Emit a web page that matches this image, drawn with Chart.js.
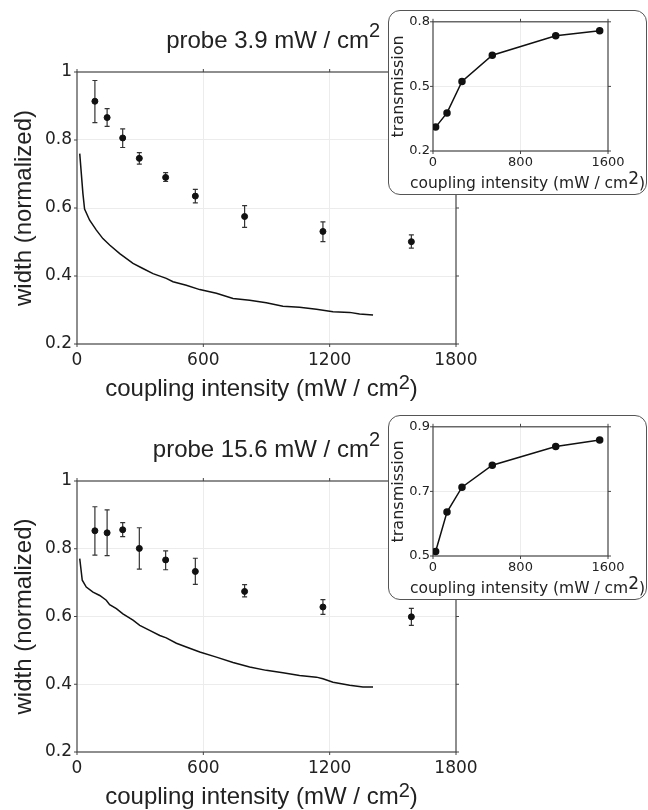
<!DOCTYPE html>
<html>
<head>
<meta charset="utf-8">
<script src="https://cdn.jsdelivr.net/npm/chart.js@4.4.0/dist/chart.umd.min.js"></script>
<style>
body { margin: 0; background: #fff; }
#wrap { position: relative; width: 648px; height: 810px; overflow: hidden; }
.main { position: absolute; left: 0; }
.inset { position: absolute; left: 388px; width: 259px; height: 185px; box-sizing: border-box;
         border: 1px solid #555; border-radius: 12px; background: #fff; overflow: hidden; }
.inset canvas { display: block; }
</style>
</head>
<body>
<div id="wrap">
  <canvas id="c-top" class="main" width="648" height="405" style="top:0"></canvas>
  <canvas id="c-bot" class="main" width="648" height="405" style="top:405px"></canvas>
  <div class="inset" style="top:10px"><canvas id="c-in-top" width="257" height="183"></canvas></div>
  <div class="inset" style="top:415px"><canvas id="c-in-bot" width="257" height="183"></canvas></div>
</div>
<script>
// measured points (coupling intensity, mW/cm2)
const couplingX = [85, 143, 217, 296, 421, 562, 796, 1168, 1588];

// probe 3.9 mW/cm2
const widthLow      = [0.914, 0.866, 0.806, 0.746, 0.690, 0.635, 0.575, 0.531, 0.501];
const widthLowErrHi = [0.975, 0.892, 0.833, 0.763, 0.704, 0.655, 0.607, 0.559, 0.521];
const widthLowErrLo = [0.851, 0.840, 0.778, 0.729, 0.678, 0.615, 0.543, 0.501, 0.482];

// probe 15.6 mW/cm2
const widthHigh      = [0.853, 0.847, 0.856, 0.801, 0.767, 0.733, 0.674, 0.628, 0.599];
const widthHighErrHi = [0.924, 0.915, 0.877, 0.862, 0.794, 0.772, 0.694, 0.650, 0.624];
const widthHighErrLo = [0.781, 0.780, 0.836, 0.740, 0.738, 0.695, 0.658, 0.606, 0.574];

// theory curves
const theoryLowX = [13, 28, 36, 60, 92, 123, 155, 203, 266, 313, 361, 424, 456, 519, 583, 662, 741, 820, 899, 978, 1057, 1137, 1216, 1295, 1342, 1406];
const theoryLowY = [0.760, 0.643, 0.597, 0.564, 0.535, 0.510, 0.491, 0.466, 0.437, 0.422, 0.407, 0.393, 0.383, 0.373, 0.360, 0.349, 0.334, 0.329, 0.321, 0.311, 0.308, 0.302, 0.295, 0.293, 0.288, 0.285];
const theoryHighX = [13, 25, 44, 76, 108, 139, 155, 187, 218, 266, 298, 345, 393, 424, 472, 519, 583, 662, 741, 820, 899, 978, 1057, 1137, 1168, 1216, 1295, 1358, 1406];
const theoryHighY = [0.771, 0.707, 0.687, 0.672, 0.662, 0.648, 0.635, 0.623, 0.608, 0.589, 0.574, 0.559, 0.544, 0.537, 0.521, 0.510, 0.495, 0.480, 0.464, 0.451, 0.441, 0.434, 0.426, 0.421, 0.416, 0.406, 0.397, 0.392, 0.392];

// insets: transmission
const insetX = [24, 128, 265, 542, 1122, 1524];
const transLow  = [0.311, 0.377, 0.523, 0.645, 0.735, 0.758];
const transHigh = [0.514, 0.636, 0.713, 0.781, 0.839, 0.859];

// ticks
const mainXTicks = [0, 600, 1200, 1800];
const mainYTicks = [0.2, 0.4, 0.6, 0.8, 1];
const insetXTicks = [0, 800, 1600];
const insetLowYTicks = [0.2, 0.5, 0.8];
const insetHighYTicks = [0.5, 0.7, 0.9];

const SANS = "'Liberation Sans', Arial, sans-serif";
const DEJA = "'DejaVu Sans', sans-serif";

const pts = (xs, ys) => xs.map((v, i) => ({ x: v, y: ys[i] }));
const setTicks = arr => s => { s.ticks = arr.map(v => ({ value: v })); };
const gridColor = c => (c.index === 0 || c.index === c.scale.ticks.length - 1) ? 'rgba(0,0,0,0)' : '#ececec';

const framePlugin = {
    id: 'frame',
    beforeDatasetsDraw(chart) {
        const { ctx, chartArea: a, scales: { x, y } } = chart;
        ctx.save();
        ctx.strokeStyle = '#444'; ctx.lineWidth = 1.2;
        ctx.strokeRect(a.left, a.top, a.right - a.left, a.bottom - a.top);
        ctx.lineWidth = 1;
        ctx.beginPath();
        x.ticks.forEach(t => {
            const px = x.getPixelForValue(t.value);
            ctx.moveTo(px, a.top); ctx.lineTo(px, a.top - 3);
            ctx.moveTo(px, a.bottom); ctx.lineTo(px, a.bottom + 3);
        });
        y.ticks.forEach(t => {
            const py = y.getPixelForValue(t.value);
            ctx.moveTo(a.left, py); ctx.lineTo(a.left - 3, py);
            ctx.moveTo(a.right, py); ctx.lineTo(a.right + 3, py);
        });
        ctx.stroke();
        ctx.restore();
    }
};

const errPlugin = {
    id: 'errbars',
    beforeDatasetsDraw(chart) {
        const { ctx, scales: { x, y } } = chart;
        ctx.save();
        ctx.strokeStyle = '#333'; ctx.lineWidth = 1.2;
        chart.data.datasets.forEach(ds => {
            if (!ds.errLo) return;
            ds.data.forEach((p, j) => {
                const px = x.getPixelForValue(p.x);
                const lo = y.getPixelForValue(ds.errLo[j]), hi = y.getPixelForValue(ds.errHi[j]);
                ctx.beginPath();
                ctx.moveTo(px, lo); ctx.lineTo(px, hi);
                ctx.moveTo(px - 2.5, lo); ctx.lineTo(px + 2.5, lo);
                ctx.moveTo(px - 2.5, hi); ctx.lineTo(px + 2.5, hi);
                ctx.stroke();
            });
        });
        ctx.restore();
    }
};

// text with a superscript part (cm^2)
function drawSup(ctx, parts, x, y, align) {
    const [base, sup, tail] = parts.text;
    ctx.font = parts.size + 'px ' + parts.family;
    const wb = ctx.measureText(base).width, wt = ctx.measureText(tail).width;
    ctx.font = parts.supSize + 'px ' + parts.family;
    const ws = ctx.measureText(sup).width;
    const total = wb + ws + wt;
    let x0 = align === 'right' ? x - total : x - total / 2;
    ctx.textAlign = 'left'; ctx.textBaseline = 'alphabetic'; ctx.fillStyle = '#222';
    ctx.font = parts.size + 'px ' + parts.family;
    ctx.fillText(base, x0, y);
    ctx.font = parts.supSize + 'px ' + parts.family;
    ctx.fillText(sup, x0 + wb, y - parts.raise);
    ctx.font = parts.size + 'px ' + parts.family;
    ctx.fillText(tail, x0 + wb + ws, y);
}

const supPlugin = {
    id: 'supText',
    afterDraw(chart, args, o) {
        const { ctx, chartArea: a } = chart;
        ctx.save();
        if (o.title) drawSup(ctx, o.title, a.left + o.title.dx, a.top - o.title.dy, 'right');
        if (o.xlabel) drawSup(ctx, o.xlabel, (a.left + a.right) / 2 + o.xlabel.dx, a.bottom + o.xlabel.dy, 'center');
        ctx.restore();
    }
};

Chart.register(framePlugin, errPlugin, supPlugin);

function mainChart(id, padTop, xHeight, curveX, curveY, ys, lo, hi, titleText) {
    return new Chart(document.getElementById(id), {
        type: 'scatter',
        data: { datasets: [
            { data: pts(curveX, curveY), showLine: true, borderColor: '#111', borderWidth: 1.5, pointRadius: 0 },
            { data: pts(couplingX, ys), pointRadius: 3, backgroundColor: '#111', borderColor: '#111', errLo: lo, errHi: hi }
        ] },
        options: {
            responsive: false, animation: false,
            layout: { padding: { top: padTop, right: 192, left: 0, bottom: 0 } },
            plugins: {
                legend: { display: false }, tooltip: { enabled: false },
                supText: {
                    title: { text: [titleText, '2', ''], size: 24, supSize: 20, raise: 11, family: SANS, dx: 303, dy: 24 },
                    xlabel: { text: ['coupling intensity (mW / cm', '2', ')'], size: 24, supSize: 20, raise: 7, family: SANS, dx: -5, dy: 52 }
                }
            },
            scales: {
                x: { type: 'linear', min: 0, max: 1800, afterBuildTicks: setTicks(mainXTicks),
                     afterFit: s => { s.height = xHeight; },
                     grid: { color: gridColor, drawTicks: false }, border: { display: false },
                     ticks: { autoSkip: false, maxRotation: 0, padding: 6, color: '#222', font: { family: DEJA, size: 17 },
                              callback: v => String(v) } },
                y: { min: 0.2, max: 1, afterBuildTicks: setTicks(mainYTicks),
                     afterFit: s => { s.width = 77; },
                     grid: { color: gridColor, drawTicks: false }, border: { display: false },
                     ticks: { autoSkip: false, padding: 5, color: '#222', font: { family: DEJA, size: 17 },
                              callback: v => v === 1 ? '1' : v.toFixed(1) },
                     title: { display: true, text: 'width (normalized)', color: '#222', padding: { top: 10, bottom: 0 },
                              font: { family: SANS, size: 24 } } }
            }
        }
    });
}

function insetChart(id, ys, yTicks) {
    return new Chart(document.getElementById(id), {
        type: 'scatter',
        data: { datasets: [
            { data: pts(insetX, ys), showLine: true, borderColor: '#111', borderWidth: 1.5, pointRadius: 3, backgroundColor: '#111' }
        ] },
        options: {
            responsive: false, animation: false,
            layout: { padding: { top: 10, right: 38, left: 0, bottom: 0 } },
            plugins: {
                legend: { display: false }, tooltip: { enabled: false },
                supText: {
                    xlabel: { text: ['coupling intensity (mW / cm', '2', ')'], size: 15.5, supSize: 17, raise: 4, family: DEJA, dx: 7, dy: 37 }
                }
            },
            scales: {
                x: { type: 'linear', min: 0, max: 1600, afterBuildTicks: setTicks(insetXTicks),
                     afterFit: s => { s.height = 43; },
                     grid: { color: gridColor, drawTicks: false }, border: { display: false },
                     ticks: { autoSkip: false, maxRotation: 0, padding: 4, color: '#222', font: { family: DEJA, size: 13 },
                              callback: v => String(v) } },
                y: { min: yTicks[0], max: yTicks[yTicks.length - 1], afterBuildTicks: setTicks(yTicks),
                     afterFit: s => { s.width = 44; },
                     grid: { color: gridColor, drawTicks: false }, border: { display: false },
                     ticks: { autoSkip: false, padding: 3, color: '#222', font: { family: DEJA, size: 13 },
                              callback: v => v.toFixed(1) },
                     title: { display: true, text: 'transmission', color: '#222', padding: { top: 0, bottom: 0 },
                              font: { family: DEJA, size: 16 } } }
            }
        }
    });
}

mainChart('c-top', 72, 61, theoryLowX, theoryLowY, widthLow, widthLowErrLo, widthLowErrHi, 'probe 3.9 mW / cm');
mainChart('c-bot', 76, 58, theoryHighX, theoryHighY, widthHigh, widthHighErrLo, widthHighErrHi, 'probe 15.6 mW / cm');
insetChart('c-in-top', transLow, insetLowYTicks);
insetChart('c-in-bot', transHigh, insetHighYTicks);
</script>
</body>
</html>
